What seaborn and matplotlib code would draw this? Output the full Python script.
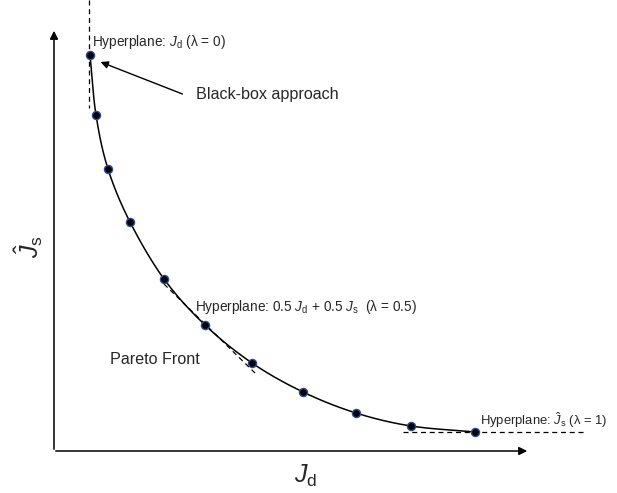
import numpy as np
import pandas as pd
import matplotlib
matplotlib.use("Agg")
import matplotlib.pyplot as plt
import seaborn as sns

sns.set_style("white")
plt.rcParams['font.family'] = ['Liberation Sans', 'DejaVu Sans']
plt.rcParams['mathtext.fontset'] = 'custom'
plt.rcParams['mathtext.rm'] = 'Liberation Sans'
plt.rcParams['mathtext.it'] = 'Liberation Sans:italic'

# Pareto front points (diagram units, y grows downward)
front_x = [90, 96, 108, 130, 164, 205, 252, 303, 356, 411, 475]
front_y = [55, 115, 169, 222, 279, 325, 363, 392, 413, 426, 432]

df = pd.DataFrame({"x": front_x, "y": front_y})

fig = plt.figure(figsize=(6.17, 4.93), dpi=100)
ax = fig.add_axes([0, 0, 1, 1])
ax.set_xlim(0, 617)
ax.set_ylim(493, 0)
ax.axis('off')

# smooth curve through the points (Catmull-Rom for drawing)
P = np.array([front_x, front_y], dtype=float).T
ext = np.vstack([2 * P[0] - P[1], P, 2 * P[-1] - P[-2]])
curve = []
for i in range(1, len(ext) - 2):
    p0, p1, p2, p3 = ext[i - 1], ext[i], ext[i + 1], ext[i + 2]
    for t in np.linspace(0, 1, 20, endpoint=False):
        t2, t3 = t * t, t * t * t
        pt = 0.5 * ((2 * p1) + (-p0 + p2) * t + (2 * p0 - 5 * p1 + 4 * p2 - p3) * t2
                    + (-p0 + 3 * p1 - 3 * p2 + p3) * t3)
        curve.append(pt)
curve.append(P[-1])
curve = np.array(curve)
ax.plot(curve[:, 0], curve[:, 1], color='black', lw=1.1, zorder=2)

sns.scatterplot(data=df, x="x", y="y", ax=ax, s=34, color='black',
                edgecolor='#2a4d9c', linewidth=1.0, zorder=3, legend=False)

# hyperplanes (dashed)
ax.plot([89, 89], [0, 108], ls=(0, (4, 3)), color='black', lw=0.9)
ax.plot([164, 255], [284, 373], ls=(0, (4, 3)), color='black', lw=0.9)
ax.plot([403, 583], [432, 432], ls=(0, (4, 3)), color='black', lw=0.9)

# axes arrows
ax.annotate('', xy=(54, 28), xytext=(54, 452),
            arrowprops=dict(arrowstyle='-|>', color='black', lw=1.1, mutation_scale=12))
ax.annotate('', xy=(530, 451), xytext=(53, 451),
            arrowprops=dict(arrowstyle='-|>', color='black', lw=1.1, mutation_scale=12))

# black-box arrow
ax.annotate('', xy=(98, 61), xytext=(185, 95),
            arrowprops=dict(arrowstyle='-|>', color='black', lw=1.0, mutation_scale=11))

hp = 9.8
ax.text(92, 42, r'Hyperplane: $J_{\mathrm{d}}$ (λ = 0)', fontsize=hp, ha='left', va='center')
ax.text(196, 95, 'Black-box approach', fontsize=11.6, ha='left', va='center')
ax.text(195, 307, r'Hyperplane: 0.5 $J_{\mathrm{d}}$ + 0.5 $J_{\mathrm{s}}$  (λ = 0.5)',
        fontsize=hp, ha='left', va='center')
ax.text(110, 359, 'Pareto Front', fontsize=11.6, ha='left', va='center')
ax.text(480, 420, r'Hyperplane: $\hat{J}_{\mathrm{s}}$ (λ = 1)', fontsize=9.4, ha='left', va='center')

ax.text(306, 476, r'$J_{\mathrm{d}}$', fontsize=18, ha='center', va='center')
ax.text(29, 247, r'$\hat{J}_{\mathrm{s}}$', fontsize=18, ha='center', va='center', rotation=90)

fig.savefig('out.png', dpi=100)
